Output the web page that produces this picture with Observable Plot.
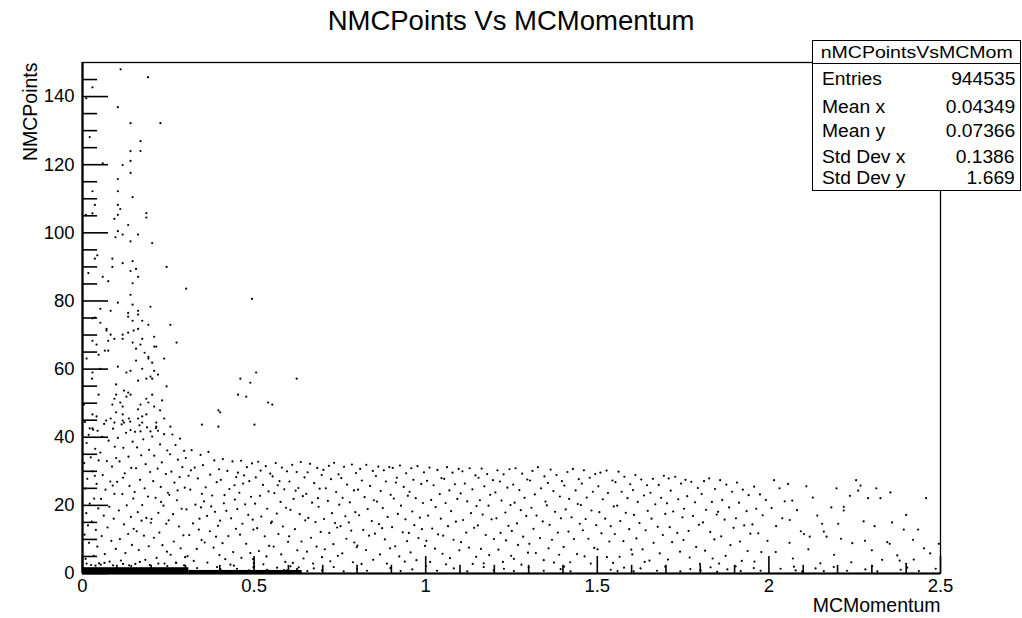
<!DOCTYPE html>
<html><head><meta charset="utf-8">
<script src="https://cdn.jsdelivr.net/npm/d3@7"></script>
<script src="https://cdn.jsdelivr.net/npm/@observablehq/plot@0.6"></script>
<style>
body{margin:0;background:#fff;font-family:"Liberation Sans",Arial,Helvetica,sans-serif;color:#000;}
#wrap{position:relative;width:1022px;height:618px;overflow:hidden;background:#fff;}
#title{height:40px;line-height:42px;text-align:center;font-size:27.5px;}
#stats{position:absolute;left:812px;top:40px;width:207px;height:149px;border:1.5px solid #000;background:#fff;}
#stats .hdr{position:absolute;left:0;right:0;top:0;height:22px;border-bottom:1.5px solid #000;text-align:center;font-size:16px;line-height:24px;}
#stats .hdr span{display:inline-block;transform:scaleX(1.22);}
#stats .row{position:absolute;left:9px;right:5px;height:22px;line-height:22px;font-size:17.5px;display:flex;justify-content:space-between;}
#stats .row span{display:inline-block;}
#stats .row .l{transform:scaleX(1.1);transform-origin:left center;}
#stats .row .v{transform:scaleX(1.1);transform-origin:right center;}
</style></head>
<body><div id="wrap"><div id="title"></div><div id="chart"></div><div id="stats"></div></div>
<script>
const chartTitle = "NMCPoints Vs MCMomentum";
const xTitle = "MCMomentum";
const yTitle = "NMCPoints";
const statsTitle = "nMCPointsVsMCMom";
const statsLabels = ["Entries","Mean x","Mean y","Std Dev x","Std Dev y"];
const statsValues = ["944535","0.04349","0.07366","0.1386","1.669"];

const xMajorTicks = [0,0.5,1,1.5,2,2.5];
const xTickLabels = ["0","0.5","1","1.5","2","2.5"];
const xMinorTicks = [0.1,0.2,0.3,0.4,0.6,0.7,0.8,0.9,1.1,1.2,1.3,1.4,1.6,1.7,1.8,1.9,2.1,2.2,2.3,2.4];
const yMajorTicks = [0,20,40,60,80,100,120,140];
const yTickLabels = ["0","20","40","60","80","100","120","140"];
const yMinorTicks = [5,10,15,25,30,35,45,50,55,65,70,75,85,90,95,105,110,115,125,130,135,145];

// saturated histogram bins along the floor (momentum range, nPoints range)
const floorBins = [
  {x1:0,x2:0.31,y1:0,y2:1.7},
  {x1:0.31,x2:0.64,y1:0,y2:0.9}
];

// high-multiplicity tail (MCMomentum, NMCPoints)
const tailPoints = [
[0.111,148.0],[0.191,145.7],[0.029,142.7],[0.011,139.5],[0.103,136.9],[0.140,132.2],[0.227,132.2],[0.021,128.1],[0.169,126.9],[0.140,124.0],[0.169,124.0],[0.059,120.4],[0.117,119.9],[0.140,121.1],[0.140,117.6],[0.103,115.8],[0.029,112.2],[0.103,112.2],[0.146,110.5],[0.036,108.2],[0.103,108.2],[0.110,107.0],[0.029,105.7],[0.186,105.8],[0.186,104.5],[0.103,105.3],[0.093,104.1],[0.010,105.3],[0.133,102.3],[0.103,100.5],[0.117,99.5],[0.162,99.5],[0.096,98.7],[0.140,97.5],[0.203,97.0],
[0.043,93.4],[0.036,92.4],[0.087,92.4],[0.117,91.1],[0.146,91.7],[0.087,90.0],[0.156,89.4],[0.245,90.0],[0.140,88.8],[0.017,88.2],[0.059,87.1],[0.162,87.1],[0.075,85.8],[0.146,85.2],[0.302,83.6],[0.140,81.8],[0.494,80.6],[0.103,79.5],[0.146,78.9],[0.198,78.3],[0.052,77.7],[0.082,77.1],[0.133,76.5],[0.162,77.1],[0.162,76.0],[0.133,75.4],[0.029,74.9],[0.036,75.1],[0.146,74.2],[0.174,74.2],[0.052,73.6],[0.192,73.0],[0.256,73.0],[0.070,71.8],[0.070,71.3],[0.162,71.8],[0.149,71.3],[0.133,70.7],[0.082,70.1],[0.117,70.1],[0.209,69.5],[0.029,68.3],[0.075,68.3],[0.093,68.9],[0.117,68.9],[0.174,68.9],[0.146,67.8],[0.274,67.8],[0.041,67.2],[0.169,67.2],[0.209,66.6],[0.215,66.6],[0.156,66.0],[0.065,65.4],[0.075,65.4],[0.181,64.8],[0.047,64.2],[0.192,63.6],[0.192,63.1],[0.012,63.1],[0.238,63.1],[0.156,62.5],[0.203,61.9],[0.103,60.7],[0.052,60.1],[0.174,60.1],[0.029,59.0],[0.140,59.5],[0.128,59.0],[0.209,59.5],[0.220,58.4],[0.506,59.0],[0.028,57.2],[0.186,57.2],[0.198,57.8],[0.203,57.2],[0.460,57.2],[0.624,57.2],[0.162,56.6],[0.489,56.0],[0.098,55.5],[0.245,54.9],[0.121,53.7],[0.133,53.1],[0.047,52.5],[0.098,52.5],[0.093,51.3],[0.140,52.5],[0.128,51.9],[0.203,52.5],[0.453,52.5],[0.477,51.9],[0.186,51.3],[0.192,50.2],[0.232,50.8],[0.110,50.2],[0.169,49.6],[0.004,49.6],[0.541,50.2],[0.553,49.6],[0.087,49.6],[0.117,49.0],[0.209,49.0],[0.098,47.3],[0.117,46.7],[0.162,48.2],[0.396,47.9],[0.401,47.3],[0.226,47.9],[0.029,46.7],[0.041,46.1],[0.186,46.7],[0.174,46.1],[0.162,45.5],[0.135,45.5],[0.238,45.5],[0.082,45.5],[0.093,44.3],[0.117,44.9],[0.121,44.3],[0.174,44.3],[0.215,44.3],[0.215,43.1],[0.256,43.1],[0.348,43.7],[0.396,43.1],[0.501,43.7],[0.021,42.6],[0.029,42.6],[0.140,42.1],[0.169,41.7],[0.198,41.7],[0.220,41.9]
];

// band, momentum 0 - 0.3
const bandA = [
[0.007,44.5],[0.031,42.2],[0.018,40.7],[0.044,41.9],[0.012,38.3],[0.037,36.6],[0.024,34.1],[0.005,32.4],[0.047,33.2],[0.029,30.0],[0.014,27.8],[0.041,26.3],[0.008,24.9],[0.034,22.0],[0.021,20.5],[0.046,19.1],[0.011,17.7],[0.027,15.2],[0.039,12.8],[0.006,11.4],[0.019,9.0],[0.043,7.9],[0.033,5.2],[0.009,4.3],[0.025,2.5],[0.048,3.0],[0.016,14.1],[0.036,28.7],
[0.063,43.9],[0.089,42.5],[0.057,40.1],[0.076,39.0],[0.094,37.2],[0.052,35.5],[0.071,33.0],[0.086,31.4],[0.098,33.9],[0.059,28.9],[0.081,27.0],[0.067,24.6],[0.093,23.4],[0.054,21.9],[0.078,19.6],[0.062,17.0],[0.091,16.1],[0.073,13.5],[0.056,11.0],[0.084,9.6],[0.097,7.2],[0.065,5.7],[0.079,3.5],[0.053,2.6],[0.088,25.8],[0.069,44.9],
[0.114,43.8],[0.139,44.6],[0.127,41.3],[0.103,39.8],[0.146,38.7],[0.119,36.9],[0.134,34.3],[0.108,32.9],[0.142,31.0],[0.123,29.4],[0.101,26.9],[0.137,25.7],[0.116,23.3],[0.148,22.0],[0.129,20.0],[0.106,18.5],[0.141,16.6],[0.121,14.4],[0.133,11.6],[0.109,10.1],[0.144,8.4],[0.125,6.0],[0.112,3.8],[0.136,2.4],[0.149,13.1],[0.118,28.1],
[0.166,43.5],[0.153,41.6],[0.188,42.9],[0.177,39.4],[0.159,37.0],[0.194,36.3],[0.171,34.7],[0.184,32.1],[0.156,30.9],[0.197,29.8],[0.168,27.5],[0.181,25.0],[0.152,23.9],[0.191,22.6],[0.174,20.1],[0.161,18.0],[0.186,16.3],[0.199,14.9],[0.158,12.4],[0.179,11.1],[0.193,8.0],[0.164,6.9],[0.183,4.0],[0.154,2.8],[0.172,15.5],
[0.214,42.7],[0.238,40.9],[0.203,40.2],[0.226,37.9],[0.247,36.1],[0.209,34.6],[0.231,32.6],[0.219,30.8],[0.243,29.2],[0.206,27.1],[0.228,25.4],[0.249,23.7],[0.213,22.2],[0.236,19.9],[0.221,17.8],[0.201,16.0],[0.244,14.6],[0.224,12.0],[0.208,10.5],[0.233,8.3],[0.246,6.4],[0.216,4.6],[0.239,2.9],[0.229,21.0],
[0.262,40.8],[0.284,39.6],[0.271,37.7],[0.296,36.0],[0.255,35.0],[0.278,33.4],[0.291,31.2],[0.259,29.9],[0.283,28.3],[0.268,26.7],[0.298,25.2],[0.253,23.1],[0.275,21.5],[0.289,19.0],[0.264,17.4],[0.251,15.6],[0.281,13.8],[0.294,11.2],[0.266,9.4],[0.286,7.4],[0.257,5.5],[0.273,3.1],[0.299,4.8],[0.277,24.4]
];

// band, momentum 0.3 - 0.6
const bandB = [
[0.318,36.2],[0.301,33.9],[0.344,34.8],[0.327,31.1],[0.309,28.7],[0.336,27.9],[0.348,23.4],[0.314,24.6],[0.329,20.2],[0.303,18.8],[0.341,16.1],[0.322,14.7],[0.311,11.3],[0.347,9.8],[0.333,7.2],[0.306,5.1],[0.324,3.7],[0.339,12.9],[0.316,30.3],[0.345,19.4],
[0.367,35.7],[0.384,33.2],[0.351,31.8],[0.398,30.6],[0.372,29.0],[0.359,25.3],[0.391,26.8],[0.378,22.9],[0.354,21.2],[0.386,18.1],[0.363,16.9],[0.395,14.0],[0.371,12.4],[0.356,9.1],[0.382,7.6],[0.399,5.4],[0.364,3.2],[0.389,10.8],[0.375,19.7],
[0.409,33.6],[0.437,32.9],[0.422,30.1],[0.448,28.3],[0.403,27.5],[0.428,24.8],[0.414,23.0],[0.444,21.7],[0.419,18.4],[0.433,16.2],[0.401,15.5],[0.447,13.1],[0.425,11.0],[0.408,8.9],[0.439,6.3],[0.416,4.2],[0.431,2.6],[0.443,25.9],[0.412,20.6],
[0.462,33.1],[0.479,31.2],[0.494,32.3],[0.453,29.6],[0.486,27.1],[0.468,26.4],[0.457,23.7],[0.491,22.5],[0.474,20.3],[0.451,18.9],[0.483,17.2],[0.466,14.6],[0.498,12.9],[0.459,11.4],[0.477,8.7],[0.489,6.0],[0.463,4.6],[0.471,28.8],[0.496,15.8],
[0.512,32.8],[0.534,31.5],[0.547,29.3],[0.505,28.2],[0.526,26.0],[0.542,24.1],[0.517,22.8],[0.503,20.5],[0.538,19.0],[0.521,16.7],[0.549,14.8],[0.509,13.3],[0.531,10.9],[0.544,8.1],[0.514,6.6],[0.527,2.7],[0.536,5.0],[0.519,30.2],
[0.563,32.4],[0.581,31.1],[0.596,30.0],[0.554,28.5],[0.574,27.1],[0.588,24.7],[0.559,23.6],[0.577,21.0],[0.593,19.3],[0.566,17.6],[0.552,15.2],[0.584,13.8],[0.571,11.6],[0.599,9.3],[0.557,7.9],[0.579,5.6],[0.591,3.4],[0.569,25.9]
];

// band, momentum 0.6 - 1.0
const bandC = [
[0.611,31.9],[0.636,32.7],[0.624,29.8],[0.647,28.2],[0.603,27.0],[0.629,25.1],[0.642,22.7],[0.615,21.9],[0.606,18.7],[0.633,17.4],[0.649,15.6],[0.619,13.0],[0.602,10.9],[0.638,9.4],[0.626,6.8],[0.644,4.4],[0.613,3.1],[0.621,24.3],
[0.663,32.2],[0.684,31.0],[0.697,28.9],[0.656,29.7],[0.675,26.5],[0.691,24.9],[0.652,23.4],[0.669,20.8],[0.688,19.6],[0.658,16.3],[0.679,15.1],[0.694,12.2],[0.666,10.5],[0.682,7.9],[0.654,6.4],[0.698,4.8],[0.672,2.9],[0.686,22.1],
[0.718,31.6],[0.733,32.5],[0.702,30.4],[0.746,29.1],[0.724,27.7],[0.709,25.0],[0.739,23.9],[0.715,21.3],[0.748,20.2],[0.727,17.7],[0.704,16.0],[0.742,13.5],[0.719,11.9],[0.731,8.6],[0.706,7.1],[0.744,5.2],[0.722,3.6],[0.736,14.8],
[0.762,31.3],[0.785,32.0],[0.797,29.5],[0.754,28.0],[0.771,26.1],[0.791,24.4],[0.758,22.2],[0.779,20.9],[0.795,18.0],[0.766,16.8],[0.752,13.9],[0.783,12.6],[0.769,10.2],[0.799,7.7],[0.757,5.9],[0.788,3.3],[0.776,15.0],[0.792,9.1],
[0.809,30.7],[0.827,31.9],[0.846,30.1],[0.814,27.3],[0.838,25.7],[0.803,24.6],[0.822,22.4],[0.849,21.5],[0.831,18.9],[0.806,17.1],[0.843,15.4],[0.818,12.8],[0.835,11.1],[0.801,8.2],[0.826,6.9],[0.847,4.0],[0.813,2.8],
[0.862,31.4],[0.878,30.3],[0.894,31.2],[0.855,28.6],[0.884,27.0],[0.869,24.2],[0.898,23.1],[0.858,21.1],[0.875,19.2],[0.889,16.6],[0.864,14.5],[0.852,11.7],[0.881,10.0],[0.896,7.4],[0.867,5.6],[0.887,2.9],[0.873,13.3],
[0.904,31.0],[0.925,31.7],[0.943,29.4],[0.913,26.7],[0.936,25.4],[0.948,22.8],[0.907,22.0],[0.928,19.9],[0.919,17.5],[0.941,15.9],[0.902,13.6],[0.933,12.1],[0.946,9.5],[0.911,8.0],[0.923,5.0],[0.939,3.5],[0.916,28.1],
[0.958,30.9],[0.976,31.5],[0.995,29.7],[0.964,27.5],[0.987,26.3],[0.953,24.0],[0.971,22.1],[0.992,20.7],[0.961,18.2],[0.983,16.4],[0.967,14.2],[0.951,11.9],[0.979,10.4],[0.998,8.1],[0.956,6.2],[0.973,3.9],[0.989,13.0]
];

// band, momentum 1.0 - 1.6
const bandD = [
[1.011,31.1],[1.034,30.4],[1.046,28.0],[1.004,27.2],[1.023,25.9],[1.041,23.3],[1.016,21.6],[1.029,19.5],[1.007,17.0],[1.044,16.1],[1.019,13.2],[1.036,11.5],[1.002,9.6],[1.027,7.3],[1.049,5.8],[1.013,3.4],
[1.062,31.2],[1.078,29.6],[1.096,30.7],[1.054,27.8],[1.085,26.2],[1.069,24.4],[1.092,21.9],[1.058,20.7],[1.074,18.3],[1.088,15.2],[1.065,13.9],[1.051,11.1],[1.081,9.9],[1.098,6.8],[1.071,4.5],[1.059,2.7],
[1.107,30.0],[1.128,30.9],[1.145,28.8],[1.114,26.4],[1.136,24.7],[1.102,23.5],[1.121,21.2],[1.148,19.8],[1.132,17.7],[1.109,15.7],[1.141,13.4],[1.118,12.0],[1.103,9.2],[1.126,7.6],[1.147,4.9],[1.137,2.8],
[1.163,30.8],[1.179,29.2],[1.196,27.4],[1.154,28.1],[1.171,25.6],[1.188,23.1],[1.158,21.5],[1.183,19.9],[1.166,17.3],[1.192,15.9],[1.152,14.1],[1.175,11.3],[1.199,10.1],[1.161,7.2],[1.185,5.4],[1.169,3.0],
[1.209,30.3],[1.227,29.1],[1.244,30.6],[1.216,27.0],[1.238,25.2],[1.203,23.8],[1.221,21.4],[1.247,20.1],[1.232,17.9],[1.206,16.2],[1.241,14.0],[1.218,11.9],[1.234,9.7],[1.212,7.0],[1.249,5.2],[1.225,3.4],
[1.262,30.9],[1.281,29.3],[1.296,27.6],[1.255,26.1],[1.273,24.5],[1.288,22.2],[1.259,20.8],[1.277,18.6],[1.293,16.9],[1.266,14.7],[1.251,12.5],[1.284,10.8],[1.269,8.4],[1.298,6.1],[1.257,4.3],[1.279,2.6],
[1.311,30.1],[1.327,31.2],[1.346,28.5],[1.304,27.3],[1.336,25.0],[1.318,23.2],[1.349,21.1],[1.308,19.3],[1.323,17.0],[1.341,15.3],[1.314,13.1],[1.333,10.4],[1.302,8.7],[1.321,6.0],[1.344,3.9],
[1.364,30.5],[1.381,28.9],[1.397,27.1],[1.356,26.6],[1.372,24.2],[1.391,22.6],[1.353,20.0],[1.377,18.1],[1.394,16.2],[1.361,14.3],[1.385,12.0],[1.368,9.9],[1.358,7.4],[1.389,5.5],[1.374,3.2],
[1.413,29.8],[1.429,30.7],[1.446,27.7],[1.404,25.8],[1.437,24.4],[1.418,21.9],[1.443,20.4],[1.408,18.8],[1.425,16.5],[1.449,14.6],[1.416,12.3],[1.432,10.1],[1.402,7.8],[1.441,5.7],[1.421,3.3],
[1.461,30.3],[1.478,28.1],[1.494,29.2],[1.455,26.4],[1.487,24.0],[1.469,22.3],[1.452,20.1],[1.483,18.5],[1.466,16.0],[1.497,14.2],[1.458,12.7],[1.474,10.2],[1.491,7.5],[1.463,5.0],[1.481,2.9],
[1.509,29.6],[1.527,30.2],[1.544,27.3],[1.503,25.6],[1.531,23.6],[1.516,21.8],[1.548,19.7],[1.506,18.0],[1.523,16.1],[1.539,13.9],[1.512,11.8],[1.535,9.4],[1.501,7.1],[1.528,4.8],[1.546,3.1],
[1.562,29.9],[1.579,28.4],[1.596,26.2],[1.553,26.8],[1.571,24.0],[1.588,22.1],[1.558,19.9],[1.583,17.8],[1.567,15.4],[1.593,13.0],[1.551,11.6],[1.576,9.5],[1.599,7.0],[1.565,4.9]
];

// band, momentum 1.6 - 2.0
const bandE = [
[1.611,28.9],[1.628,27.6],[1.645,25.9],[1.604,24.5],[1.636,22.9],[1.618,21.0],[1.647,18.4],[1.607,17.2],[1.623,14.8],[1.641,12.7],[1.614,10.3],[1.632,7.1],[1.602,5.6],[1.638,3.4],
[1.694,28.7],[1.662,27.8],[1.679,26.0],[1.655,23.7],[1.686,22.2],[1.669,20.3],[1.698,17.5],[1.658,16.1],[1.676,13.7],[1.691,11.3],[1.664,9.0],[1.682,5.9],[1.652,3.8],
[1.708,27.9],[1.727,28.4],[1.744,26.4],[1.714,24.3],[1.736,21.8],[1.703,20.6],[1.721,18.2],[1.748,16.5],[1.711,13.6],[1.733,11.9],[1.718,9.2],[1.741,6.4],[1.706,4.1],
[1.757,27.5],[1.774,26.9],[1.793,25.1],[1.762,22.7],[1.785,20.9],[1.753,19.0],[1.779,16.9],[1.796,14.3],[1.766,12.5],[1.751,9.8],[1.788,7.8],[1.769,4.7],[1.799,2.8],
[1.811,27.1],[1.826,27.9],[1.843,24.8],[1.804,23.3],[1.834,21.0],[1.817,18.7],[1.848,17.3],[1.808,15.0],[1.829,12.2],[1.841,10.0],[1.814,6.7],[1.836,4.4],
[1.858,27.4],[1.876,26.1],[1.893,24.0],[1.864,21.6],[1.884,19.4],[1.852,18.1],[1.871,15.8],[1.897,13.4],[1.861,10.9],[1.888,8.3],[1.874,5.2],[1.855,2.9],
[1.907,26.7],[1.924,24.6],[1.941,23.0],[1.913,20.8],[1.935,18.3],[1.904,16.2],[1.928,14.1],[1.946,11.7],[1.916,9.4],[1.938,6.6],[1.921,3.7],
[1.957,25.5],[1.974,23.2],[1.991,21.6],[1.963,19.0],[1.982,17.1],[1.952,14.4],[1.969,11.8],[1.996,9.6],[1.978,6.3],[1.958,3.5]
];

// band, momentum 2.0 - 2.5
const bandF = [
[2.015,27.4],[2.031,25.0],[2.046,21.2],[2.008,19.2],[2.039,16.2],[2.021,13.9],[2.020,6.3],
[2.056,26.3],[2.068,21.4],[2.082,18.6],[2.061,15.7],[2.093,12.4],[2.070,4.4],[2.060,9.0],
[2.109,25.6],[2.128,22.3],[2.102,11.6],[2.119,10.8],[2.141,17.0],[2.115,7.1],[2.150,3.0],
[2.155,14.6],[2.160,12.3],[2.168,10.8],[2.197,25.0],[2.182,19.4],[2.190,5.5],
[2.202,14.6],[2.218,19.6],[2.218,18.5],[2.236,22.8],[2.243,8.9],[2.240,3.3],[2.210,10.2],
[2.254,27.4],[2.267,25.8],[2.260,24.3],[2.289,22.1],[2.276,15.3],[2.280,9.6],[2.300,6.8],
[2.313,25.0],[2.325,22.1],[2.308,13.9],[2.345,9.2],[2.352,8.7],[2.330,4.0],
[2.354,23.8],[2.359,15.0],[2.393,12.9],[2.374,5.3],[2.381,3.8],[2.400,2.8],
[2.400,17.2],[2.435,12.9],[2.458,22.1],[2.452,7.4],[2.495,8.7],[2.422,4.1],[2.420,9.9],[2.470,5.9]
];

// entries just above the floor
const floorPoints = [
[0.012,2.9],[0.038,2.3],[0.064,3.1],[0.089,2.4],[0.118,2.8],[0.142,2.2],[0.167,3.4],[0.196,2.5],[0.221,2.9],[0.247,2.2],[0.272,3.2],[0.296,2.4],[0.497,4.2],[0.499,3.0],[0.498,1.8],
[0.305,0.8],[0.334,1.6],[0.363,0.6],[0.392,1.9],[0.402,1.2],[0.431,0.7],[0.441,2.3],[0.450,1.4],[0.485,0.9],[0.500,2.0],[0.538,1.1],[0.553,0.5],[0.567,1.7],[0.596,0.9],[0.606,2.1],[0.625,1.3],
[0.587,1.0],[0.616,0.6],[0.630,1.8],[0.655,0.7],[0.674,1.5],[0.698,0.9],[0.732,1.9],[0.761,0.6],[0.800,1.4],[0.829,0.8],[0.897,1.6],[0.927,0.7],[0.961,1.2],[1.001,2.2],[1.033,0.8],[1.082,1.5],
[1.121,0.6],[1.169,1.9],[1.198,0.9],[1.228,1.4],[1.257,0.7],[1.300,1.8],[1.344,0.8],[1.393,1.3],[1.403,2.0],[1.422,0.6],[1.539,1.1],[1.559,0.7],[1.578,1.7],[1.606,0.6],[1.626,1.5],[1.674,0.8],
[1.698,2.0],[1.742,0.6],[1.771,1.3],[1.801,0.9],[1.830,1.8],[1.849,0.5],[1.879,1.2],[1.903,2.1],[1.918,0.7],[1.956,1.6],[1.976,0.8],[2.034,1.4],[2.073,2.0],[2.078,0.9],[2.097,0.6],[2.136,1.5],
[2.160,0.7],[2.189,1.9],[2.228,0.8],[2.281,1.2],[2.301,2.2],[2.316,0.6],[2.384,1.1],[2.403,1.7],[2.437,0.7],[2.486,1.4]
];

const allPoints = [...tailPoints, ...bandA, ...bandB, ...bandC, ...bandD, ...bandE, ...bandF, ...floorPoints];

// tick lengths expressed in data units of the crossing axis
const xMajorLen = 5, xMinorLen = 2.4, yMajorLen = 0.076, yMinorLen = 0.044;

document.getElementById("title").textContent = chartTitle;

const chart = Plot.plot({
  width: 1022,
  height: 578,
  marginLeft: 82,
  marginRight: 82,
  marginTop: 22,
  marginBottom: 45,
  style: {fontFamily: "'Liberation Sans', Arial, Helvetica, sans-serif", background: "white", color: "#000", overflow: "visible"},
  x: {domain: [0, 2.5]},
  y: {domain: [0, 150]},
  marks: [
    Plot.rect(floorBins, {x1: "x1", x2: "x2", y1: "y1", y2: "y2", fill: "#000"}),
    Plot.dot(allPoints, {x: d => d[0], y: d => d[1], r: 1.1, fill: "#000", stroke: null}),
    Plot.frame({stroke: "#000", strokeWidth: 1.3}),
    Plot.ruleX([0], {stroke: "#000", strokeWidth: 2.2}),
    Plot.ruleY([0], {stroke: "#000", strokeWidth: 2.2}),
    Plot.ruleX(xMajorTicks, {x: d => d, y1: 0, y2: xMajorLen, stroke: "#000", strokeWidth: 1.6}),
    Plot.ruleX(xMinorTicks, {x: d => d, y1: 0, y2: xMinorLen, stroke: "#000", strokeWidth: 1.6}),
    Plot.ruleY(yMajorTicks, {y: d => d, x1: 0, x2: yMajorLen, stroke: "#000", strokeWidth: 1.6}),
    Plot.ruleY(yMinorTicks, {y: d => d, x1: 0, x2: yMinorLen, stroke: "#000", strokeWidth: 1.6}),
    Plot.axisX(xMajorTicks, {tickSize: 0, tickPadding: 5, fontSize: 18.5, label: null, tickFormat: d => xTickLabels[xMajorTicks.indexOf(d)]}),
    Plot.axisY(yMajorTicks, {tickSize: 0, tickPadding: 8, fontSize: 18.5, label: null, tickFormat: d => yTickLabels[yMajorTicks.indexOf(d)]}),
    Plot.text([xTitle], {frameAnchor: "bottom-right", text: d => d, textAnchor: "end", dy: 38, fontSize: 19.5, fill: "#000"}),
    Plot.text([yTitle], {frameAnchor: "top-left", text: d => d, textAnchor: "end", rotate: -90, dx: -59, fontSize: 19.5, fill: "#000"})
  ]
});
document.getElementById("chart").appendChild(chart);

// statistics box
const stats = document.getElementById("stats");
const hdr = document.createElement("div");
hdr.className = "hdr";
hdr.innerHTML = "<span></span>";
hdr.firstChild.textContent = statsTitle;
stats.appendChild(hdr);
const rowCenters = [38, 66, 90, 116, 137];
statsLabels.forEach((lab, i) => {
  const row = document.createElement("div");
  row.className = "row";
  row.style.top = (rowCenters[i] - 11) + "px";
  const l = document.createElement("span"); l.className = "l"; l.textContent = lab;
  const v = document.createElement("span"); v.className = "v"; v.textContent = statsValues[i];
  row.appendChild(l); row.appendChild(v);
  stats.appendChild(row);
});
</script>
</body></html>
